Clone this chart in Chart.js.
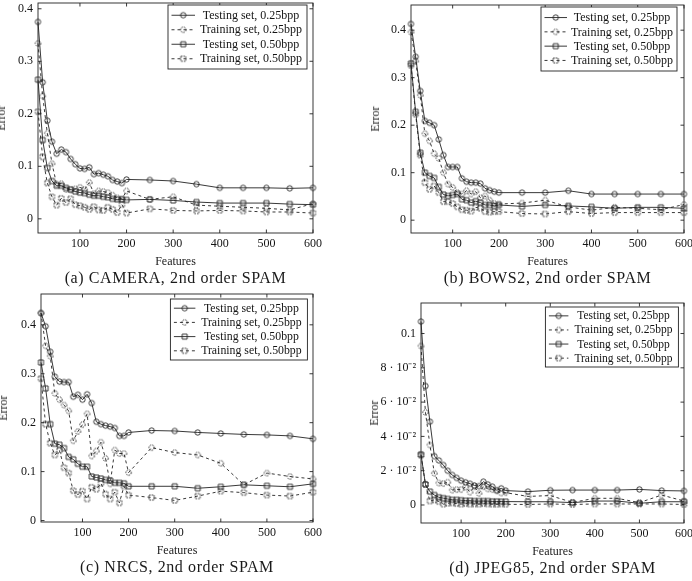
<!DOCTYPE html>
<html><head><meta charset="utf-8">
<script src="https://cdn.jsdelivr.net/npm/chart.js@4.4.1/dist/chart.umd.min.js"></script>
<style>
html,body{margin:0;padding:0;background:#fff}
body{width:692px;height:581px;position:relative;overflow:hidden;font-family:"Liberation Serif","Times New Roman",serif;color:#1a1a1a}
.panel{position:absolute}
.lbl{position:absolute;white-space:nowrap;transform:translate(-50%,-50%);font-size:12px;line-height:1}
.cap{font-size:16px;letter-spacing:0.6px}
.ylab{transform:translate(-50%,-50%) rotate(-90deg)}
</style></head><body>
<script>
// ---------- data ----------
const features = [10,20,30,40,50,60,70,80,90,100,110,120,130,140,150,160,170,180,190,200,250,300,350,400,450,500,550,600];
const xTickValues = [100,200,300,400,500,600];
const seriesLabels = ['Testing set, 0.25bpp','Training set, 0.25bpp','Testing set, 0.50bpp','Training set, 0.50bpp'];

const cameraTest025 = [0.375,0.260,0.187,0.147,0.124,0.132,0.127,0.114,0.104,0.096,0.095,0.098,0.085,0.087,0.084,0.081,0.074,0.071,0.068,0.075,0.074,0.072,0.066,0.059,0.059,0.059,0.058,0.059];
const cameraTrain025 = [0.334,0.234,0.163,0.105,0.066,0.067,0.056,0.055,0.057,0.060,0.056,0.069,0.048,0.053,0.052,0.050,0.045,0.040,0.038,0.053,0.037,0.042,0.026,0.024,0.022,0.020,0.017,0.029];
const cameraTest050 = [0.265,0.150,0.097,0.072,0.063,0.063,0.059,0.056,0.052,0.050,0.049,0.046,0.044,0.044,0.042,0.041,0.038,0.037,0.037,0.036,0.037,0.035,0.032,0.030,0.030,0.030,0.028,0.027];
const cameraTrain050 = [0.204,0.118,0.068,0.042,0.026,0.039,0.031,0.038,0.027,0.025,0.022,0.018,0.023,0.017,0.016,0.022,0.018,0.012,0.027,0.011,0.019,0.016,0.015,0.016,0.015,0.013,0.013,0.011];

const bowsTest025 = [0.413,0.344,0.272,0.209,0.205,0.200,0.170,0.137,0.112,0.112,0.112,0.088,0.081,0.079,0.079,0.077,0.067,0.063,0.060,0.058,0.058,0.058,0.062,0.055,0.055,0.055,0.055,0.055];
const bowsTrain025 = [0.396,0.335,0.263,0.182,0.167,0.140,0.130,0.100,0.076,0.069,0.058,0.055,0.062,0.055,0.060,0.047,0.051,0.042,0.035,0.034,0.036,0.042,0.028,0.021,0.027,0.025,0.022,0.033];
const bowsTest050 = [0.330,0.228,0.142,0.100,0.093,0.089,0.070,0.054,0.051,0.053,0.055,0.044,0.042,0.037,0.040,0.037,0.032,0.032,0.030,0.032,0.029,0.032,0.030,0.028,0.025,0.027,0.027,0.025];
const bowsTrain050 = [0.326,0.223,0.137,0.079,0.065,0.072,0.058,0.039,0.039,0.035,0.028,0.022,0.021,0.019,0.027,0.025,0.018,0.017,0.018,0.018,0.014,0.013,0.018,0.014,0.016,0.016,0.016,0.016];

const nrcsTest025 = [0.424,0.397,0.345,0.294,0.284,0.283,0.283,0.253,0.257,0.247,0.258,0.240,0.202,0.197,0.194,0.192,0.189,0.173,0.173,0.180,0.184,0.183,0.180,0.178,0.176,0.175,0.173,0.167];
const nrcsTrain025 = [0.424,0.357,0.336,0.260,0.247,0.236,0.224,0.163,0.182,0.196,0.218,0.132,0.142,0.160,0.127,0.075,0.144,0.137,0.137,0.098,0.149,0.139,0.134,0.117,0.073,0.097,0.090,0.085];
const nrcsTest050 = [0.323,0.270,0.197,0.157,0.155,0.148,0.130,0.125,0.116,0.110,0.110,0.090,0.088,0.086,0.083,0.082,0.077,0.077,0.076,0.070,0.070,0.070,0.066,0.069,0.073,0.071,0.069,0.075];
const nrcsTrain050 = [0.290,0.197,0.158,0.134,0.143,0.108,0.097,0.061,0.053,0.060,0.044,0.068,0.064,0.076,0.054,0.044,0.058,0.036,0.070,0.052,0.047,0.041,0.050,0.060,0.057,0.052,0.050,0.058];

const jpegTest025 = [0.107,0.0694,0.0486,0.0285,0.026,0.0233,0.020,0.0175,0.0158,0.0142,0.0132,0.0124,0.0114,0.011,0.0136,0.012,0.0107,0.0086,0.0097,0.0084,0.0078,0.0086,0.0087,0.0087,0.0087,0.0091,0.0084,0.0082];
const jpegTrain025 = [0.0927,0.054,0.035,0.0185,0.0128,0.0125,0.0133,0.0087,0.009,0.009,0.0105,0.0075,0.0107,0.0068,0.0107,0.0094,0.009,0.0082,0.007,0.0072,0.005,0.0055,0.0015,0.0039,0.0039,0.0014,0.0058,0.0023];
const jpegTest050 = [0.0295,0.012,0.0078,0.0058,0.0045,0.004,0.0035,0.003,0.003,0.0028,0.0025,0.0025,0.0023,0.0023,0.0023,0.0023,0.0021,0.0021,0.002,0.002,0.0019,0.0019,0.0014,0.0023,0.0023,0.001,0.0019,0.0019];
const jpegTrain050 = [0.029,0.012,0.0023,0.003,0.002,0.0005,0.001,0.0012,0.0008,0.0005,0.0008,0.0005,0.0006,0.0005,0.0008,0.0006,0.0005,0.0004,0.0006,0.0004,0.0003,0.0006,0.0003,0.0006,0.0006,0.0006,0.0006,0.0003];

const yTicksTenths = [0,0.1,0.2,0.3,0.4];
const yLabelsTenths = ['0','0.1','0.2','0.3','0.4'];
const yTicksJpeg = [0,0.02,0.04,0.06,0.08,0.1];
const yLabelsJpeg = ['0','2 · 10⁻²','4 · 10⁻²','6 · 10⁻²','8 · 10⁻²','0.1'];
const xAxisTitle = 'Features';
const yAxisTitle = 'Error';
const captions = ['(a) CAMERA, 2nd order SPAM','(b) BOWS2, 2nd order SPAM','(c) NRCS, 2nd order SPAM','(d) JPEG85, 2nd order SPAM'];

// ---------- style / layout ----------
const LINE = '#222';
const TEXT = '#141414';
const FONT = '"Liberation Serif", "Times New Roman", serif';

function markerCanvas(shape, dashed){
  const c = document.createElement('canvas'); c.width = 9; c.height = 9;
  const g = c.getContext('2d');
  g.strokeStyle = LINE; g.lineWidth = 0.9;
  if (dashed) g.setLineDash([1.6,1.0]);
  g.beginPath();
  if (shape === 'circle') g.arc(4.5,4.5,2.7,0,Math.PI*2);
  else g.rect(2,2,5,5);
  g.stroke();
  return c;
}
const markers = [markerCanvas('circle',false), markerCanvas('circle',true), markerCanvas('square',false), markerCanvas('square',true)];

const framePlugin = {
  id:'pgfFrame',
  afterDatasetsDraw(chart){
    const {ctx, chartArea:a, scales} = chart;
    ctx.save();
    ctx.strokeStyle = LINE; ctx.lineWidth = 0.9; ctx.setLineDash([]);
    ctx.strokeRect(a.left, a.top, a.right-a.left, a.bottom-a.top);
    const tl = 3.5;
    ctx.beginPath();
    scales.x.ticks.forEach(t=>{
      const px = scales.x.getPixelForValue(t.value);
      ctx.moveTo(px, a.bottom); ctx.lineTo(px, a.bottom-tl);
      ctx.moveTo(px, a.top); ctx.lineTo(px, a.top+tl);
    });
    scales.y.ticks.forEach(t=>{
      const py = scales.y.getPixelForValue(t.value);
      ctx.moveTo(a.left, py); ctx.lineTo(a.left+tl, py);
      ctx.moveTo(a.right, py); ctx.lineTo(a.right-tl, py);
    });
    ctx.stroke();
    ctx.restore();
  }
};

const legendPlugin = {
  id:'pgfLegend',
  afterDraw(chart, args, o){
    const {ctx, chartArea:a} = chart;
    const x0 = a.right - o.right - o.w, y0 = a.top + o.top;
    const step = o.step, first = (o.h - 3*step)/2;
    const lineEnd = o.lineEnd;
    ctx.save();
    ctx.fillStyle = '#fff'; ctx.fillRect(x0, y0, o.w, o.h);
    ctx.strokeStyle = LINE; ctx.lineWidth = 0.9; ctx.setLineDash([]);
    ctx.strokeRect(x0, y0, o.w, o.h);
    chart.data.datasets.forEach((ds,k)=>{
      const y = y0 + first + k*step;
      ctx.strokeStyle = LINE; ctx.lineWidth = ds.borderWidth;
      ctx.setLineDash(ds.borderDash || []);
      ctx.beginPath(); ctx.moveTo(x0+3.5, y); ctx.lineTo(x0+lineEnd, y); ctx.stroke();
      ctx.setLineDash([]);
      const m = ds.pointStyle;
      ctx.drawImage(m, x0+(3.5+lineEnd)/2-m.width/2, y-m.height/2);
      ctx.fillStyle = TEXT; ctx.font = o.font + 'px ' + FONT;
      ctx.textAlign = 'center'; ctx.textBaseline = 'middle';
      ctx.fillText(ds.label, x0 + (lineEnd + 3 + o.w - 3)/2, y+0.5);
    });
    ctx.restore();
  }
};

const panels = [
  {series:[cameraTest025,cameraTrain025,cameraTest050,cameraTrain050], yTicks:yTicksTenths, yLabels:yLabelsTenths, yMin:-0.027, yMax:0.411, rect:[38,3,313,233], errOff:37, legend:{w:139,h:64,top:2,right:6,step:14.5,lineEnd:27,font:12}},
  {series:[bowsTest025,bowsTrain025,bowsTest050,bowsTrain050], yTicks:yTicksTenths, yLabels:yLabelsTenths, yMin:-0.027, yMax:0.453, rect:[411,5,684,233], errOff:36, legend:{w:136,h:64,top:2,right:7,step:14.3,lineEnd:26,font:12}},
  {series:[nrcsTest025,nrcsTrain025,nrcsTest050,nrcsTrain050], yTicks:yTicksTenths, yLabels:yLabelsTenths, yMin:-0.003, yMax:0.463, rect:[41,294,313,522], errOff:38, legend:{w:137,h:61,top:5,right:5.6,step:14.2,lineEnd:25,font:11.8}},
  {series:[jpegTest025,jpegTrain025,jpegTest050,jpegTrain050], yTicks:yTicksJpeg, yLabels:yLabelsJpeg, yMin:-0.0105, yMax:0.1178, rect:[421,303,684,523], errOff:47, legend:{w:133,h:60,top:4,right:5.6,step:14.1,lineEnd:23,font:11.5}}
];

function addLabel(text, x, y, cls){
  const d = document.createElement('div');
  d.className = 'lbl ' + (cls||'');
  d.style.left = x + 'px'; d.style.top = y + 'px';
  d.textContent = text;
  document.body.appendChild(d);
}

panels.forEach((p,i)=>{
  const [L,T,R,B] = p.rect;
  const YW = 50, PT = 25, PR = 40, XH = 30, PB = 5;
  const W = (R-L)+YW+PR, H = (B-T)+PT+XH+PB;
  const div = document.createElement('div');
  div.className = 'panel';
  Object.assign(div.style,{left:(L-YW)+'px', top:(T-PT)+'px', width:W+'px', height:H+'px'});
  const cv = document.createElement('canvas');
  cv.width = W; cv.height = H;
  cv.style.width = W+'px'; cv.style.height = H+'px';
  div.appendChild(cv); document.body.appendChild(div);

  new Chart(cv, {
    type:'line',
    data:{
      datasets: p.series.map((vals,k)=>({
        label: seriesLabels[k],
        data: features.map((f,j)=>({x:f, y:vals[j]})),
        borderColor: LINE, borderWidth: 0.9,
        borderDash: (k%2) ? [3,3] : [],
        pointStyle: markers[k], pointRadius: 3,
        clip: false, tension: 0, fill: false
      }))
    },
    options:{
      responsive:false, devicePixelRatio:1, animation:false, events:[],
      layout:{padding:{left:0, top:PT, right:PR, bottom:PB}},
      plugins:{legend:{display:false}, tooltip:{enabled:false}, pgfLegend:p.legend},
      scales:{
        x:{type:'linear', min:10, max:600,
           afterBuildTicks: s => { s.ticks = xTickValues.map(v=>({value:v})); },
           afterFit: s => { s.height = XH; },
           grid:{display:false, drawTicks:false}, border:{display:false},
           ticks:{autoSkip:false, maxRotation:0, padding:4, color:TEXT, font:{family:FONT, size:12}, callback:v=>String(v)}},
        y:{type:'linear', min:p.yMin, max:p.yMax,
           afterBuildTicks: s => { s.ticks = p.yTicks.map(v=>({value:v})); },
           afterFit: s => { s.width = YW; },
           grid:{display:false, drawTicks:false}, border:{display:false},
           ticks:{autoSkip:false, padding:5, color:TEXT, font:{family:FONT, size:12}, callback:(v,idx)=>p.yLabels[idx]}}
      }
    },
    plugins:[framePlugin, legendPlugin]
  });

  const cx = (L+R)/2;
  addLabel(xAxisTitle, cx, B+28);
  addLabel(captions[i], cx, B+45, 'cap');
  addLabel(yAxisTitle, L-p.errOff, (T+B)/2, 'ylab');
});
</script>
</body></html>
